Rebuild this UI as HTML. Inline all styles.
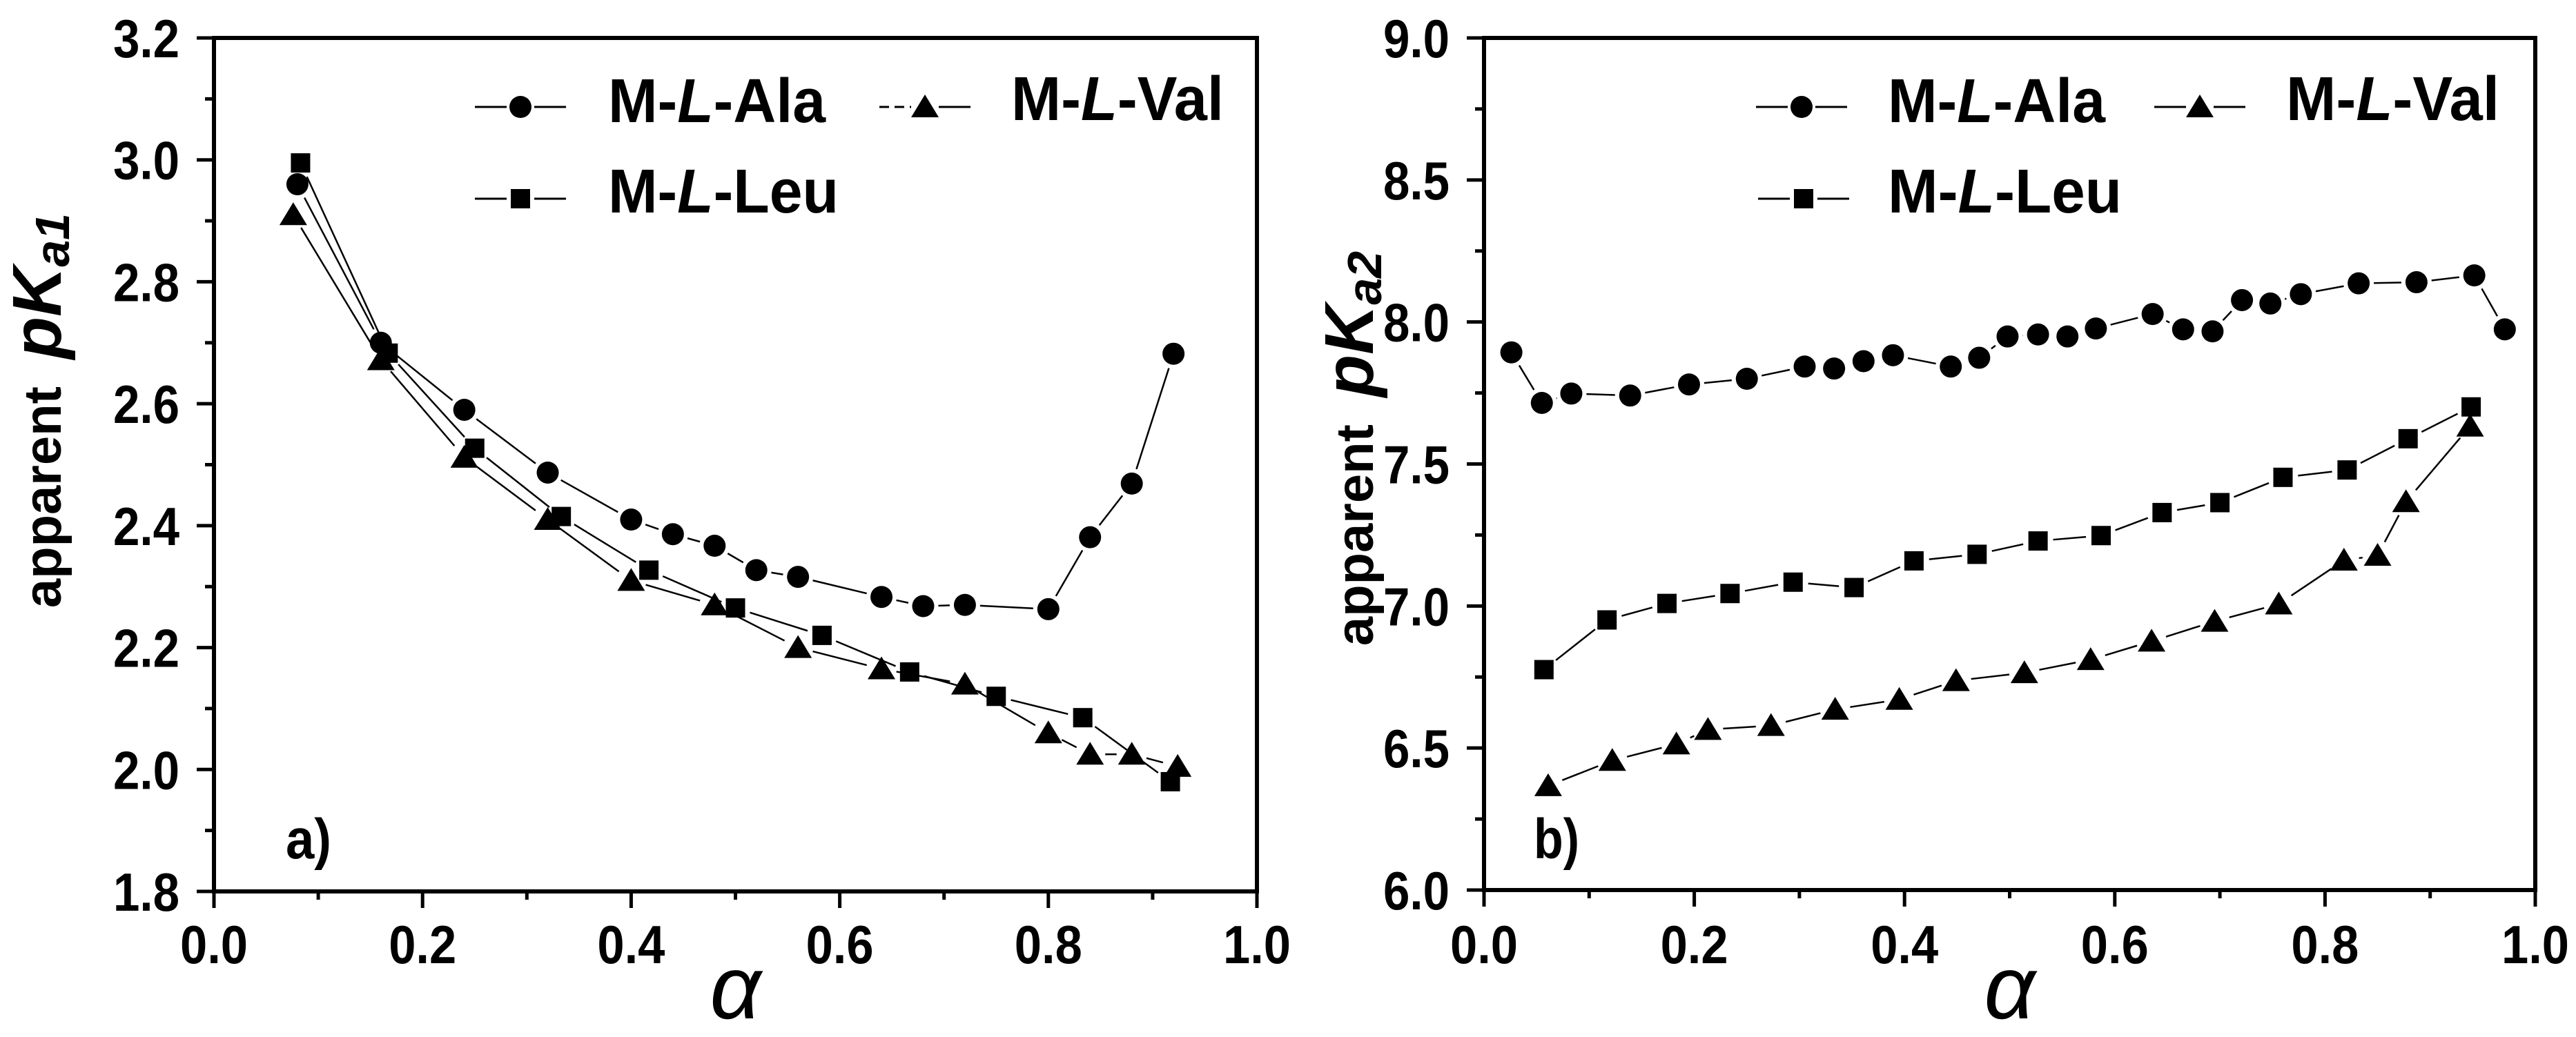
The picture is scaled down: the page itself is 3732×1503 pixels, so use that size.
<!DOCTYPE html>
<html><head><meta charset="utf-8"><style>
html,body{margin:0;padding:0;background:#fff;}
svg{display:block;}
text{font-family:"Liberation Sans",Arial,sans-serif;fill:#000;}
</style></head><body>
<svg id="chart" width="3732" height="1503" viewBox="0 0 3732 1503" xmlns="http://www.w3.org/2000/svg">
<rect x="0" y="0" width="3732" height="1503" fill="#fff"/>
<g id="pa"></g>
<g id="pb"></g>
</svg>
<script>
// ---- Panel a data (pKa1) ----
const aAlaX = [0.08,0.16,0.24,0.32,0.40,0.44,0.48,0.52,0.56,0.64,0.68,0.72,0.80,0.84,0.88,0.92];
const aAlaY = [2.96,2.70,2.59,2.487,2.41,2.386,2.367,2.327,2.316,2.283,2.268,2.27,2.263,2.381,2.469,2.682];
const aValX = [0.076,0.16,0.24,0.32,0.40,0.48,0.56,0.64,0.72,0.80,0.84,0.88,0.924];
const aValY = [2.91,2.672,2.512,2.41,2.31,2.27,2.20,2.165,2.14,2.06,2.025,2.025,2.005];
const aLeuX = [0.083,0.167,0.25,0.333,0.417,0.50,0.583,0.667,0.75,0.833,0.917];
const aLeuY = [2.995,2.683,2.527,2.415,2.327,2.265,2.22,2.16,2.12,2.085,1.98];
const aYTicks = ["1.8","2.0","2.2","2.4","2.6","2.8","3.0","3.2"];
// ---- Panel b data (pKa2) ----
const bAlaX = [0.026,0.055,0.083,0.139,0.195,0.25,0.305,0.333,0.361,0.389,0.444,0.471,0.498,0.527,0.555,0.582,0.636,0.665,0.693,0.721,0.748,0.777,0.832,0.887,0.942,0.971];
const bAlaY = [7.893,7.715,7.748,7.741,7.78,7.80,7.843,7.836,7.862,7.883,7.843,7.874,7.949,7.956,7.949,7.977,8.028,7.974,7.967,8.077,8.065,8.098,8.136,8.14,8.164,7.974];
const bValX = [0.061,0.122,0.183,0.213,0.273,0.334,0.395,0.449,0.514,0.577,0.635,0.695,0.756,0.818,0.85,0.877,0.938];
const bValY = [6.367,6.456,6.514,6.565,6.579,6.636,6.671,6.737,6.765,6.811,6.876,6.946,7.007,7.161,7.178,7.367,7.633];
const bLeuX = [0.057,0.117,0.174,0.234,0.294,0.352,0.409,0.469,0.527,0.587,0.645,0.70,0.76,0.821,0.879,0.939];
const bLeuY = [6.776,6.951,7.009,7.044,7.084,7.065,7.159,7.182,7.229,7.248,7.329,7.364,7.453,7.479,7.589,7.701];
const bYTicks = ["6.0","6.5","7.0","7.5","8.0","8.5","9.0"];
const xTicks = ["0.0","0.2","0.4","0.6","0.8","1.0"];

const NS = "http://www.w3.org/2000/svg";
function mk(parent, tag, attrs, txt){
  const e = document.createElementNS(NS, tag);
  for (const k in attrs) e.setAttribute(k, attrs[k]);
  if (txt !== undefined) e.textContent = txt;
  parent.appendChild(e);
  return e;
}
function marker(g, type, cx, cy){
  let m;
  if (type === 'circle') m = mk(g,'circle',{cx:cx,cy:cy,r:16,fill:'#000'});
  else if (type === 'square') m = mk(g,'rect',{x:cx-14,y:cy-14,width:28,height:28,fill:'#000'});
  else m = mk(g,'polygon',{points:(cx-20)+','+(cy+15)+' '+(cx+20)+','+(cy+15)+' '+cx+','+(cy-18),fill:'#000'});
  return m;
}
function drawPanel(cfg){
  const g = document.getElementById(cfg.id);
  const L=cfg.L,R=cfg.R,T=cfg.T,B=cfg.B;
  const sx = v => L + v*(R-L);
  const sy = v => B - (v-cfg.ymin)/(cfg.ymax-cfg.ymin)*(B-T);
  const fr = mk(g,'rect',{x:L,y:T,width:R-L,height:B-T,fill:'none',stroke:'#000','stroke-width':6});
  
  
  for (let i=0;i<=10;i++){
    const x = sx(i/10);
    const len = (i%2===0)?24:12;
    const t = mk(g,'line',{x1:x,y1:B,x2:x,y2:B+len,stroke:'#000','stroke-width':5});
    
    
  }
  xTicks.forEach((s)=>{
    const v = parseFloat(s);
    const t = mk(g,'text',{x:sx(v),y:1396,'text-anchor':'middle','font-size':78,'font-weight':'bold',textLength:98,lengthAdjust:'spacingAndGlyphs'},s);
    
    
  });
  const n = cfg.yTicks.length-1;
  for (let i=0;i<=2*n;i++){
    const v = cfg.ymin + i*(cfg.ymax-cfg.ymin)/(2*n);
    const y = sy(v);
    const len = (i%2===0)?25:13;
    const t = mk(g,'line',{x1:L-len,y1:y,x2:L,y2:y,stroke:'#000','stroke-width':5});
    
    
  }
  cfg.yTicks.forEach((s)=>{
    const v = parseFloat(s);
    const t = mk(g,'text',{x:L-50,y:sy(v)+28,'text-anchor':'end','font-size':78,'font-weight':'bold',textLength:96,lengthAdjust:'spacingAndGlyphs'},s);
    
    
  });
  const xt = mk(g,'text',{x:(L+R)/2,y:1476,'text-anchor':'middle','font-size':130,'font-style':'italic','font-family':'"Liberation Serif","DejaVu Serif",serif'},'α');
  
  
  const yt = mk(g,'text',{transform:'translate('+(cfg.titleX+26)+','+cfg.titleY+') rotate(-90)','text-anchor':'middle'});
  
  
  mk(yt,'tspan',{'font-size':76,'font-weight':'bold'},'apparent');
  mk(yt,'tspan',{'font-size':100,'font-weight':'bold','font-style':'italic',dx:40},'pK');
  mk(yt,'tspan',{'font-size':70,'font-weight':'bold','font-style':'italic',dy:12},cfg.sub);
  const pl = mk(g,'text',{x:cfg.labX,y:1244,'font-size':82,'font-weight':'bold',textLength:66,lengthAdjust:'spacingAndGlyphs'},cfg.tag+')');
  
  
  cfg.series.forEach(s=>{
    const sg = mk(g,'g',{});
    
    
    const pts = s.x.map((xv,i)=>[sx(xv),sy(s.y[i])]);
    for (let i=0;i<pts.length-1;i++){
      const [x1,y1]=pts[i],[x2,y2]=pts[i+1];
      const d = Math.hypot(x2-x1,y2-y1);
      const gap = 22;
      if (d <= 2*gap) continue;
      const ux=(x2-x1)/d, uy=(y2-y1)/d;
      const ln = mk(sg,'line',{x1:x1+ux*gap,y1:y1+uy*gap,x2:x2-ux*gap,y2:y2-uy*gap,stroke:'#000','stroke-width':2.5});
      
      
    }
    pts.forEach(p=>{
      const m = marker(sg, s.marker, p[0], p[1]);
      
      
    });
  });
  const lg = mk(g,'g',{});
  
  
  cfg.legend.forEach(e=>{
    const eg = mk(lg,'g',{});
    
    
    mk(eg,'line',{x1:e.mx-66,y1:e.my,x2:e.mx-20,y2:e.my,stroke:'#000','stroke-width':3,'stroke-dasharray':e.dash||'none'});
    mk(eg,'line',{x1:e.mx+20,y1:e.my,x2:e.mx+66,y2:e.my,stroke:'#000','stroke-width':3});
    marker(eg, e.marker, e.mx, e.my);
    const t = mk(eg,'text',{x:e.tx,y:e.ty,'font-size':90,'font-weight':'bold',textLength:e.w,lengthAdjust:'spacingAndGlyphs'});
    mk(t,'tspan',{},'M-');
    mk(t,'tspan',{'font-style':'italic'},'L');
    mk(t,'tspan',{},'-'+e.label);
  });
}
drawPanel({id:'pa',tag:'a',L:310,R:1821,T:55,B:1292,ymin:1.8,ymax:3.2,yTicks:aYTicks,sub:'a1',
  titleX:62,titleY:595,labX:414,
  series:[{name:'ala',x:aAlaX,y:aAlaY,marker:'circle'},{name:'val',x:aValX,y:aValY,marker:'triangle'},{name:'leu',x:aLeuX,y:aLeuY,marker:'square'}],
  legend:[{name:'ala',label:'Ala',marker:'circle',mx:754,my:155,tx:881,ty:177,w:315},
          {name:'val',label:'Val',marker:'triangle',mx:1340,my:155,tx:1465,ty:174,w:308,dash:'14 8'},
          {name:'leu',label:'Leu',marker:'square',mx:754,my:288,tx:881,ty:308,w:334}]});
drawPanel({id:'pb',tag:'b',L:2150,R:3673,T:55,B:1290,ymin:6.0,ymax:9.0,yTicks:bYTicks,sub:'a2',
  titleX:1963,titleY:650,labX:2222,
  series:[{name:'ala',x:bAlaX,y:bAlaY,marker:'circle'},{name:'val',x:bValX,y:bValY,marker:'triangle'},{name:'leu',x:bLeuX,y:bLeuY,marker:'square'}],
  legend:[{name:'ala',label:'Ala',marker:'circle',mx:2610,my:155,tx:2735,ty:177,w:315},
          {name:'val',label:'Val',marker:'triangle',mx:3187,my:155,tx:3312,ty:174,w:309},
          {name:'leu',label:'Leu',marker:'square',mx:2613,my:288,tx:2735,ty:308,w:339}]});
</script>
</body></html>
